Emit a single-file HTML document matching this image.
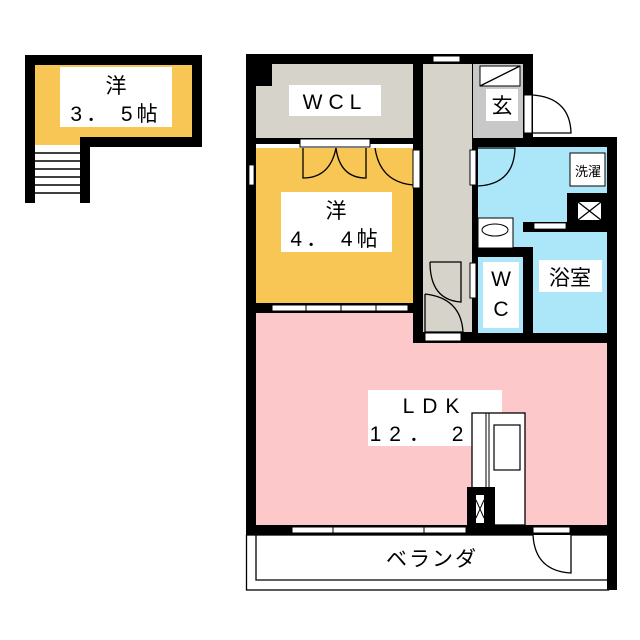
<!DOCTYPE html>
<html><head><meta charset="utf-8"><style>
html,body{margin:0;padding:0;background:#fff;}
svg{display:block;}
text{font-family:"Liberation Sans","Noto Sans CJK JP",sans-serif;fill:#000;}
</style></head><body>
<svg width="640" height="640" viewBox="0 0 640 640" xmlns="http://www.w3.org/2000/svg">
<!-- Loft -->
<rect x="25" y="55" width="177" height="92" fill="#000"/>
<rect x="25" y="137" width="65" height="66" fill="#000"/>
<rect x="35" y="65" width="157" height="72" fill="#f8c654"/>
<rect x="35" y="137" width="45" height="8" fill="#f8c654"/>
<rect x="35" y="145" width="45" height="58" fill="#fff"/>
<g stroke="#000" stroke-width="1.5">
<line x1="35" y1="153" x2="80" y2="153"/><line x1="35" y1="161" x2="80" y2="161"/>
<line x1="35" y1="169" x2="80" y2="169"/><line x1="35" y1="177" x2="80" y2="177"/>
<line x1="35" y1="185" x2="80" y2="185"/><line x1="35" y1="193" x2="80" y2="193"/>
</g>
<rect x="60" y="67" width="112" height="60" fill="#fff"/>
<text x="116" y="93" font-size="21" text-anchor="middle">洋</text>
<text x="116" y="121" font-size="21" text-anchor="middle" letter-spacing="4">3． 5帖</text>

<!-- LDK pink first -->
<rect x="256" y="313" width="351" height="212" fill="#fdc8c9"/>

<!-- Main walls -->
<rect x="246" y="54" width="287" height="90" fill="#000"/>
<rect x="246" y="54" width="10" height="481" fill="#000"/>
<rect x="413" y="54" width="60" height="289" fill="#000"/>
<rect x="468" y="137" width="149" height="206" fill="#000"/>
<rect x="607" y="137" width="10" height="453" fill="#000"/>
<rect x="246" y="303" width="177" height="10" fill="#000"/>
<rect x="246" y="525" width="371" height="10" fill="#000"/>

<!-- WCL -->
<rect x="256" y="64" width="157" height="74" fill="#d5d3ca"/>
<rect x="256" y="64" width="16" height="22" fill="#000"/>
<rect x="289" y="85" width="92" height="31" fill="#fff"/>
<text x="335" y="109" font-size="21" text-anchor="middle" letter-spacing="6">WCL</text>
<!-- 洋 4.4 -->
<rect x="256" y="148" width="157" height="155" fill="#f8c654"/>
<rect x="300" y="139" width="70" height="8" fill="#fff" stroke="#000" stroke-width="1"/>
<g fill="none" stroke="#000" stroke-width="1.3">
<path d="M303 148 V178 Q330 178 336 148"/><path d="M366 148 V178 Q340 178 336 148"/>
<path d="M375 148 Q380 182 413 185"/>
</g>
<rect x="413" y="150" width="7" height="38" fill="#fff" stroke="#000"/>
<rect x="249" y="165" width="5" height="20" fill="#fff" stroke="#000" stroke-width="0.8"/>
<rect x="281" y="192" width="111" height="60" fill="#fff"/>
<text x="336" y="218" font-size="21" text-anchor="middle">洋</text>
<text x="336" y="246" font-size="21" text-anchor="middle" letter-spacing="4">4． 4帖</text>
<rect x="272" y="305" width="136" height="6" fill="#fff" stroke="#000" stroke-width="1"/>
<line x1="306" y1="303" x2="306" y2="313" stroke="#000"/><line x1="341" y1="303" x2="341" y2="313" stroke="#000"/><line x1="376" y1="303" x2="376" y2="313" stroke="#000"/>

<!-- corridor -->
<rect x="423" y="64" width="49" height="268" fill="#d5d3ca"/>
<rect x="433" y="56" width="27" height="6" fill="#fff" stroke="#000" stroke-width="1"/>
<g fill="none" stroke="#000" stroke-width="1.3">
<path d="M430 262 H461 V302 Q430 300 430 262"/>
<path d="M425 294 V332 H463 Q461 298 425 294"/>
</g>
<rect x="425" y="333" width="36" height="8" fill="#fff" stroke="#000"/>

<!-- entrance -->
<rect x="473" y="64" width="50" height="74" fill="#c8c8c8"/>
<rect x="480" y="66" width="40" height="20" fill="#fff" stroke="#000" stroke-width="1"/>
<line x1="480" y1="86" x2="520" y2="66" stroke="#000" stroke-width="1.3"/>
<rect x="486" y="89" width="32" height="32" fill="#fff"/>
<text x="502" y="113" font-size="21" text-anchor="middle">玄</text>
<rect x="524" y="95" width="8" height="38" fill="#fff" stroke="#000"/>
<path d="M533 95 Q570 98 571 133 H533" fill="#fff" stroke="#000" stroke-width="1.3"/>

<!-- wash -->
<rect x="478" y="147" width="129" height="100" fill="#abe7f8"/>
<rect x="470" y="150" width="6" height="35" fill="#fff" stroke="#000"/>
<path d="M478 148 H515 Q514 184 478 186" fill="none" stroke="#000" stroke-width="1.3"/>
<rect x="570" y="153" width="35" height="33" fill="#fff" stroke="#000" stroke-width="1"/>
<text x="588" y="176" font-size="13" text-anchor="middle">洗濯</text>
<rect x="567" y="193" width="40" height="39" fill="#000"/>
<rect x="578" y="202" width="23" height="18" fill="#fff"/>
<path d="M578 202 L601 220 M601 202 L578 220" stroke="#000" stroke-width="1.3"/>
<rect x="478" y="218" width="35" height="30" fill="#fff" stroke="#000" stroke-width="1"/>
<ellipse cx="495" cy="230" rx="13" ry="6" fill="none" stroke="#000"/>
<!-- WC -->
<rect x="478" y="257" width="45" height="76" fill="#abe7f8"/>
<rect x="470" y="263" width="6" height="35" fill="#fff" stroke="#000"/>
<rect x="483" y="262" width="36" height="66" fill="#fff"/>
<text x="501" y="286" font-size="21" text-anchor="middle">W</text>
<text x="501" y="316" font-size="21" text-anchor="middle">C</text>
<!-- bath -->
<rect x="533" y="232" width="74" height="101" fill="#abe7f8"/>
<rect x="523" y="222" width="44" height="10" fill="#000"/>
<rect x="534" y="223" width="32" height="6" fill="#fff" stroke="#000" stroke-width="0.8"/>
<rect x="539" y="260" width="63" height="32" fill="#fff"/>
<text x="570" y="285" font-size="21" text-anchor="middle">浴室</text>

<!-- LDK contents -->
<rect x="368" y="390" width="134" height="56" fill="#fff"/>
<text x="435" y="413" font-size="21" text-anchor="middle" letter-spacing="8">LDK</text>
<text x="435" y="441" font-size="21" text-anchor="middle" letter-spacing="8">12． 2帖</text>
<rect x="472" y="413" width="53" height="112" fill="#fff" stroke="#000" stroke-width="1.3"/>
<line x1="486" y1="413" x2="486" y2="487" stroke="#000"/>
<line x1="489" y1="413" x2="489" y2="487" stroke="#000"/>
<rect x="494" y="425" width="26" height="45" fill="#fff" stroke="#000" stroke-width="1.2"/>
<rect x="467" y="487" width="28" height="40" fill="#000"/>
<rect x="476" y="495" width="8" height="28" fill="#fff"/>
<path d="M476 500 L484 518 M484 500 L476 518" stroke="#000"/>
<rect x="292" y="527" width="174" height="6" fill="#fff" stroke="#000" stroke-width="1"/>
<line x1="333" y1="525" x2="333" y2="535" stroke="#000"/><line x1="424" y1="525" x2="424" y2="535" stroke="#000"/>
<rect x="533" y="527" width="37" height="6" fill="#fff" stroke="#000"/>

<!-- balcony -->
<rect x="246.5" y="535" width="362" height="55" fill="#fff" stroke="#000" stroke-width="1.3"/>
<polyline points="256,535 256,580 607,580" fill="none" stroke="#000" stroke-width="1.3"/>
<rect x="607" y="535" width="10" height="55" fill="#000"/>
<path d="M533 535 Q535 571 571 573 V535" fill="#fff" stroke="#000" stroke-width="1.3"/>
<text x="432" y="566" font-size="21" text-anchor="middle" letter-spacing="2">ベランダ</text>
</svg>
</body></html>
